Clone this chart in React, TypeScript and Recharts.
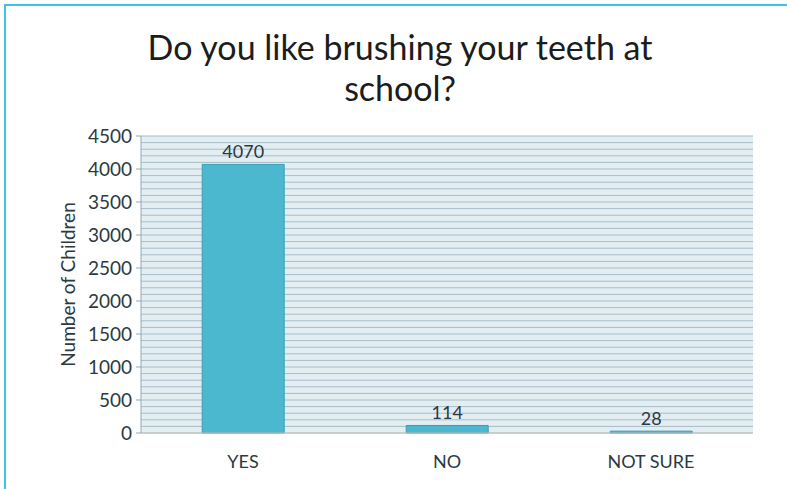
import React from 'react';
import {
  BarChart,
  Bar,
  XAxis,
  YAxis,
  CartesianGrid,
  LabelList,
} from 'recharts';

const categories = ['YES', 'NO', 'NOT SURE'];
const children = [4070, 114, 28];
const yTicks = [0, 500, 1000, 1500, 2000, 2500, 3000, 3500, 4000, 4500];
// background stripes every 100 children
const stripeValues = Array.from({ length: 46 }, (_, i) => i * 100);

const data = categories.map((name, i) => ({ name, children: children[i] }));

const textColor = '#2b3a43';
const font = 'Lato, "Open Sans", sans-serif';

export default function App() {
  return (
    <div
      style={{
        position: 'absolute',
        left: 0,
        top: 0,
        width: 787,
        height: 489,
        background: '#fff',
        fontFamily: font,
        overflow: 'hidden',
      }}
    >
      <div
        style={{
          position: 'absolute',
          left: 4,
          top: 4,
          right: -4,
          bottom: -4,
          borderTop: '2px solid #3ec3e2',
          borderLeft: '2px solid #3ec3e2',
        }}
      />
      <div
        style={{
          position: 'absolute',
          left: 0,
          top: 26,
          width: 800,
          textAlign: 'center',
          fontSize: 34,
          lineHeight: '41px',
          color: '#1c1c1c',
        }}
      >
        Do you like brushing your teeth at
        <br />
        school?
      </div>
      <div style={{ position: 'absolute', left: 0, top: 0 }}>
        <BarChart
          width={787}
          height={489}
          data={data}
          margin={{ top: 136, right: 34, left: 0, bottom: 0 }}
          barCategoryGap="30%"
        >
          <CartesianGrid
            vertical={false}
            horizontalValues={stripeValues}
            stroke="#a8bcc8"
            strokeWidth={1}
            fill="#e3eef3"
            fillOpacity={1}
          />
          <XAxis
            dataKey="name"
            height={56}
            tickLine={false}
            axisLine={{ stroke: '#c9c3bd' }}
            tick={{ fontSize: 18, fill: textColor, fontFamily: font }}
            tickMargin={16}
          />
          <YAxis
            width={141}
            domain={[0, 4500]}
            ticks={yTicks}
            interval={0}
            axisLine={{ stroke: '#8ea9b8' }}
            tickLine={{ stroke: '#8ea9b8' }}
            tickSize={5}
            tick={{ fontSize: 19, fill: textColor, fontFamily: font }}
            tickMargin={4}
            label={{
              value: 'Number of Children',
              angle: -90,
              position: 'center',
              dx: -2,
              style: { fontSize: 19, fill: textColor, fontFamily: font },
            }}
          />
          <Bar
            dataKey="children"
            fill="#4bb8cf"
            stroke="#3a9db5"
            strokeWidth={1}
            isAnimationActive={false}
          >
            <LabelList
              dataKey="children"
              position="top"
              offset={6}
              style={{ fontSize: 18, fill: textColor, fontFamily: font }}
            />
          </Bar>
        </BarChart>
      </div>
    </div>
  );
}
